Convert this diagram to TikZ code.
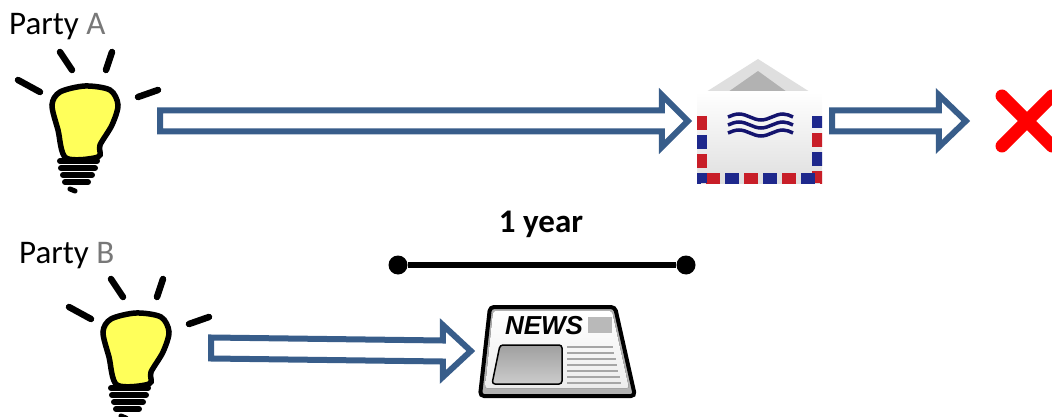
\documentclass[tikz,border=0pt]{standalone}
\usepackage{fontspec}
\setmainfont{Carlito}
\newfontfamily\newsfont{Liberation Sans}
\usetikzlibrary{calc}
\definecolor{arrowblue}{RGB}{56,93,138}
\definecolor{bulbyellow}{RGB}{255,255,90}
\definecolor{airred}{RGB}{200,30,40}
\definecolor{airblue}{RGB}{30,40,140}
\definecolor{inkblue}{RGB}{20,20,110}
\definecolor{partygray}{RGB}{120,120,120}

\newcommand\hollowarrow[3]{%
  \draw[blockarrow] ($(#1)+(0,-10.5)$) -- ($(#2)+(-#3,-10.5)$) -- ($(#2)+(-#3,-26)$)
    -- (#2) -- ($(#2)+(-#3,26)$) -- ($(#2)+(-#3,10.5)$) -- ($(#1)+(0,10.5)$) -- cycle;}

\tikzset{
  bulb/.pic={
    \foreach \xa/\ya/\xb/\yb in {-70/-41/-48/-29, -28/-69/-16/-51, 24/-69/18/-51, 50/-24/70/-31}
      \draw[line width=6.5pt, line cap=round] (\xa,\ya) -- (\xb,\yb);
    \draw[line width=5.5pt, fill=bulbyellow] plot[smooth cycle] coordinates
      {(-22,37) (-30,9) (-36,-16) (-28,-29) (-3,-35) (22,-31) (30,-16) (24,4) (12,24) (10,36)};
    \foreach \yt/\xl/\xr in {40/-28/9, 47/-27/7, 54/-25/4, 61/-23/0}
      \draw[line width=6pt, line cap=round] (\xl,\yt) -- (\xr,\yt);
    \draw[line width=5pt, line cap=round] (-18,68) -- (-13,70);
  },
  envelope/.pic={
    \fill[gray!25] (-54,-29) -- (-2,-62) -- (50,-29) -- cycle;
    \fill[gray!60] (-32,-29) -- (-2,-50) -- (27,-29) -- cycle;
    \fill[top color=white, bottom color=gray!25] (-63,-29) rectangle (62,62);
    \begin{scope}
      \clip (-63,-29) rectangle (62,62);
      \draw[airred, line width=20pt, dash pattern=on 14pt off 24pt]
        (-63,-5) -- (-63,62) -- (62,62) -- (62,-5);
      \draw[airblue, line width=20pt, dash pattern=on 14pt off 24pt, dash phase=19pt]
        (-63,-5) -- (-63,62) -- (62,62) -- (62,-5);
    \end{scope}
    \foreach \yw in {-4,4,12}
      \draw[inkblue, line width=3.5pt] (-32,\yw) sin (-21,\yw-3) cos (-10,\yw) sin (1,\yw+3)
        cos (12,\yw) sin (23,\yw-3) cos (33,\yw);
  },
  newspaper/.pic={
    \draw[line width=4pt, rounded corners=4pt, fill=gray!60]
      (-66,-44) -- (59,-44) -- (79,45) -- (-76,45) -- cycle;
    \fill[top color=white, bottom color=gray!15, rounded corners=2pt]
      (-63,-40) -- (56,-40) -- (73,37) -- (-71,37) -- cycle;
    \node[font=\newsfont\fontsize{26}{28}\selectfont\bfseries\itshape, inner sep=0pt] at (-12,-25) {NEWS};
    \fill[gray!55] (32,-34) rectangle (56,-18);
    \draw[line width=1.5pt, rounded corners=3pt, top color=gray!75, bottom color=gray!40]
      (-56,-6) -- (6,-6) -- (6,33) -- (-64,33) -- cycle;
    \foreach \yl in {-4,2,8,14,20,26,32}
      \draw[gray!70, line width=1.5pt] (11,\yl) -- ({58+\yl/4.5},\yl);
  }
}

\begin{document}
\begin{tikzpicture}[x=1pt, y=-1pt,
    blockarrow/.style={draw=arrowblue, line width=6pt, fill=white},
    iconbox/.style={inner sep=0pt, minimum width=144pt, minimum height=142pt},
    party/.style={anchor=base west, inner sep=0pt, font=\fontsize{33}{38}\selectfont},
    tick/.style={circle, fill, inner sep=0pt, minimum size=19pt}]
  \useasboundingbox (0,0) rectangle (1052,417);

  \node[party] (partyA) at (9,35) {Party \textcolor{partygray}{A}};
  \node[iconbox] (bulbA) at (88,121) {};
  \pic at (bulbA.center) {bulb};
  \node[iconbox, minimum height=124pt] (mail) at (760,121) {};
  \pic at (mail.center) {envelope};
  \node[iconbox, minimum width=122pt, minimum height=64pt] (cross) at (1027,121) {};
  \draw[red, line width=13pt, line cap=round] ($(cross.center)+(-25,-25)$) -- ($(cross.center)+(25,25)$);
  \draw[red, line width=13pt, line cap=round] ($(cross.center)+(-25,25)$) -- ($(cross.center)+(25,-25)$);
  \hollowarrow{bulbA.east}{mail.west}{26}
  \hollowarrow{mail.east}{cross.west}{27}

  \node[anchor=base, inner sep=0pt, font=\fontsize{33}{38}\selectfont\bfseries] (span) at (541,232) {1 year};
  \node[tick] (start) at (398,265) {};
  \node[tick] (stop) at (686,265) {};
  \draw[line width=5.5pt] (start) -- (stop);

  \node[party] (partyB) at (19,263) {Party \textcolor{partygray}{B}};
  \node[iconbox] (bulbB) at (139,348) {};
  \pic at (bulbB.center) {bulb};
  \node[iconbox, minimum width=170pt, minimum height=90pt] (news) at (556,351) {};
  \pic at (news.center) {newspaper};
  \hollowarrow{bulbB.east}{news.west}{28}
\end{tikzpicture}
\end{document}
